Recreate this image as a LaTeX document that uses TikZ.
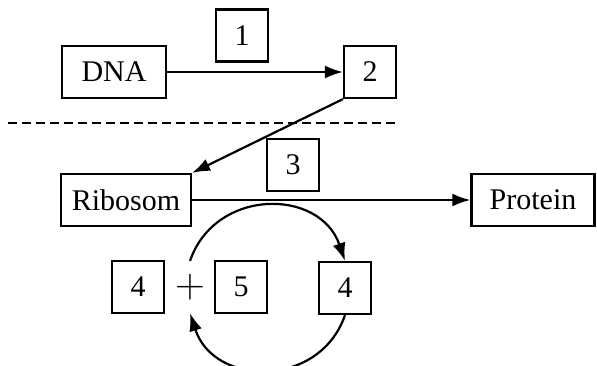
\documentclass[tikz,border=0pt]{standalone}
\usepackage{fontspec}
\setmainfont{Liberation Serif}
\usepackage{tikz}
\usetikzlibrary{arrows.meta}

\begin{document}
\begin{tikzpicture}[x=0.5pt, y=0.5pt, line width=1.1pt,
    every node/.style={font=\fontsize{15}{18}\selectfont},
    box/.style={draw, minimum height=26pt, inner sep=0pt},
    numbox/.style={box, minimum width=26pt},
    arr/.style={-{Latex[length=9pt,width=6.5pt]}}]
    \useasboundingbox (0,0) rectangle (597,365);

    \node[box, minimum width=52pt] (dna) at (114,293) {DNA};
    \node[numbox] (s1) at (242,329.5) {1};
    \node[numbox] (s2) at (370,293) {2};
    \node[numbox] (s3) at (293,200) {3};
    \node[box, minimum width=65pt] (ribo) at (126,165) {Ribosom};
    \node[box, minimum width=61.5pt] (prot) at (533,165) {Protein};

    % cycle below the ribosome
    \node[numbox] (a) at (138,78) {4};
    \node[minimum height=25pt, inner sep=0pt, font=\fontsize{20}{24}\selectfont] (plus) at (190,78) {$+$};
    \node[numbox] (b) at (241,78) {5};
    \node[numbox] (c) at (345,77) {4};

    \draw[dash pattern=on 4.5pt off 2.5pt] (8,242) -- (397,242);

    \draw[arr] (dna) -- (s2);
    \draw[arr] (s2.south west) -- (ribo.north east);
    \draw[arr] (ribo) -- (prot);
    \draw[arr] (plus.north) to[out=71, in=109, looseness=1.28] (c.north);
    \draw[arr] (c.south) to[out=-109, in=-72, looseness=1.28] (plus.south);
\end{tikzpicture}
\end{document}
